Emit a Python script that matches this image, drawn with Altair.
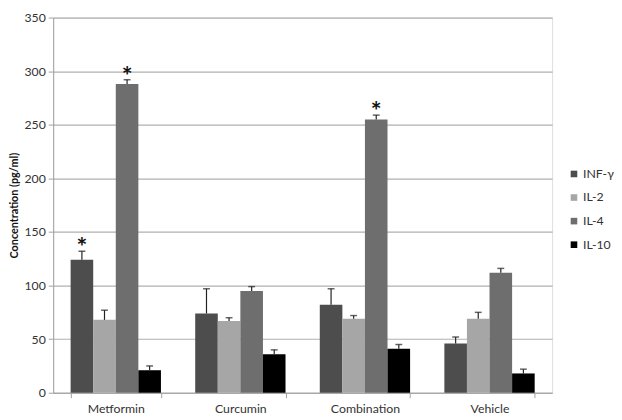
import altair as alt
import pandas as pd

categories = ["Metformin", "Curcumin", "Combination", "Vehicle"]
cytokines = ["INF-γ", "IL-2", "IL-4", "IL-10"]
colors = ["#4d4d4d", "#a6a6a6", "#6e6e6e", "#000000"]

inf_g = [124, 74, 82, 46]
inf_g_err = [8, 23, 15, 6]
il_2 = [68, 67, 69, 69]
il_2_err = [9, 3, 3, 6]
il_4 = [288, 95, 255, 112]
il_4_err = [4, 4, 4, 4]
il_10 = [21, 36, 41, 18]
il_10_err = [4, 4, 4, 4]

# significant bars (marked with *)
starred = [("Metformin", "INF-γ"), ("Metformin", "IL-4"), ("Combination", "IL-4")]

series = [(cytokines[0], inf_g, inf_g_err), (cytokines[1], il_2, il_2_err),
          (cytokines[2], il_4, il_4_err), (cytokines[3], il_10, il_10_err)]
rows = []
for i, c in enumerate(categories):
    for name, vals, errs in series:
        rows.append({"group": c, "cytokine": name, "value": vals[i],
                     "upper": vals[i] + errs[i],
                     "star": "*" if (c, name) in starred else ""})
df = pd.DataFrame(rows)

FONT = "Lato"

x = alt.X("group:N", sort=categories, title=None,
          scale=alt.Scale(paddingInner=0.275, paddingOuter=0.14),
          axis=alt.Axis(labelAngle=0, labelFontSize=12.5, labelColor="#333333",
                        domainColor="#a0a0a0", tickColor="#a0a0a0", tickBand="extent",
                        tickSize=5, labelPadding=5, grid=False, labelFont=FONT))
xo = alt.XOffset("cytokine:N", sort=cytokines, scale=alt.Scale(paddingInner=0, paddingOuter=0))
y = alt.Y("value:Q", title="Concentration (pg/ml)",
          scale=alt.Scale(domain=[0, 350], nice=False),
          axis=alt.Axis(values=list(range(0, 351, 50)), labelFontSize=12.5, labelColor="#333333",
                        domainColor="#a0a0a0", tickColor="#a0a0a0", tickSize=5,
                        gridColor="#b0b0b0", gridWidth=1.2, titleFontSize=11,
                        titleFontWeight="bold", titleColor="#111111", labelFont=FONT,
                        titleFont=FONT, titlePadding=5, labelPadding=3))

base = alt.Chart(df)

bars = base.mark_bar().encode(
    x=x, xOffset=xo, y=y,
    color=alt.Color("cytokine:N", sort=cytokines,
                    scale=alt.Scale(domain=cytokines, range=colors),
                    legend=alt.Legend(title=None, orient="none", legendX=524, legendY=153,
                                      symbolType="square", symbolSize=45, labelFontSize=12.5,
                                      labelColor="#333333", rowPadding=11, labelFont=FONT,
                                      labelOffset=3, symbolStrokeWidth=0)),
)

err = base.mark_rule(color="#222222", strokeWidth=1.2).encode(
    x=x, xOffset=xo, y="value:Q", y2="upper:Q")

cap = base.mark_tick(color="#222222", thickness=1.5, size=7).encode(
    x=x, xOffset=xo, y="upper:Q")

stars = base.transform_filter(alt.datum.star != "").mark_text(
    fontSize=26, font=FONT, fontWeight="bold", color="#111111", baseline="alphabetic", dy=5
).encode(x=x, xOffset=xo, y="upper:Q", text="star:N")

chart = alt.layer(bars, err, cap, stars).properties(
    width=508, height=382, padding={"left": 0, "top": 0, "right": 0, "bottom": 0}
).configure_view(stroke=None).configure(font=FONT)

chart.save("out.html", embed_options={"renderer": "svg", "actions": False})
